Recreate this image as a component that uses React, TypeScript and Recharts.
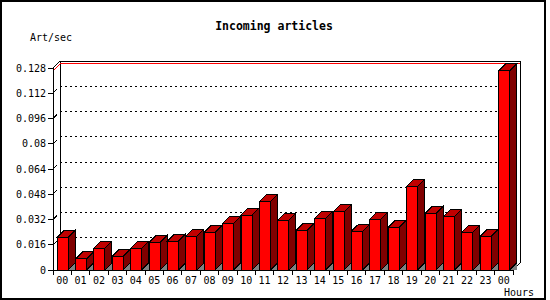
import React from 'react';
import { BarChart, Bar, XAxis, YAxis, CartesianGrid } from 'recharts';

const hours = [
  '00', '01', '02', '03', '04', '05', '06', '07', '08', '09', '10', '11',
  '12', '13', '14', '15', '16', '17', '18', '19', '20', '21', '22', '23', '00',
];
const artPerSec = [
  0.0207, 0.007, 0.0137, 0.0087, 0.0137, 0.0175, 0.0182, 0.0213, 0.0239, 0.0296, 0.0347, 0.0435,
  0.0315, 0.0251, 0.0328, 0.0368, 0.0245, 0.0321, 0.0271, 0.053, 0.0359, 0.034, 0.0239, 0.0213, 0.1261,
];
const yTicks = [0, 0.016, 0.032, 0.048, 0.064, 0.08, 0.096, 0.112, 0.128];

const DEPTH = 7;
const FONT = '"DejaVu Sans Mono", monospace';

const data = hours.map((hour, i) => ({ hour, value: artPerSec[i] }));
const maxVal = Math.max(...artPerSec);
// grid lines at the ticks, plus one more for the max line
const gridValues = [...yTicks, maxVal];

// box with top + side faces and a grey floor shadow
const Bar3D = (props: any) => {
  const { x, y, width, height } = props;
  const d = DEPTH;
  const r = x + width;
  const b = y + height;
  return (
    <g stroke="#000" strokeWidth={1}>
      <polygon points={`${r},${b} ${r + d},${b - d} ${r + d},${b}`} fill="#808080" stroke="none" />
      <polygon points={`${r},${y} ${r + d},${y - d} ${r + d},${b - d} ${r},${b}`} fill="#800000" />
      <polygon points={`${x},${y} ${x + d},${y - d} ${r + d},${y - d} ${r},${y}`} fill="#c00000" />
      <rect x={x} y={y} width={width} height={height} fill="#ff0000" />
    </g>
  );
};

// back wall grid, the 3d frame and the red max line
const BackGrid = (props: any) => {
  const { x1, y1, x2, x, y, width, height, index } = props;
  const d = DEPTH;
  if (index === yTicks.length) {
    return (
      <g key={`max-${index}`} stroke="#ff0000" strokeWidth={1} fill="none">
        <line x1={x1 + d} y1={y1 - d} x2={x2 + d} y2={y1 - d} />
        <line x1={x1} y1={y1} x2={x1 + d} y2={y1 - d} />
      </g>
    );
  }
  const isTop = Math.abs(y1 - y) < 0.5;
  const isBottom = Math.abs(y1 - (y + height)) < 0.5;
  return (
    <g key={`g-${index}`} stroke="#000" strokeWidth={1} fill="none">
      {!isTop && !isBottom && (
        <>
          <line x1={x1 + d} y1={y1 - d} x2={x2 + d} y2={y1 - d} strokeDasharray="2 3" />
          <line x1={x1 + 1} y1={y1 - 1} x2={x1 + 4} y2={y1 - 4} />
        </>
      )}
      {isTop && (
        <>
          <line x1={x + d} y1={y - d} x2={x + width + d} y2={y - d} />
          <line x1={x} y1={y} x2={x + d} y2={y - d} />
          <line x1={x + d} y1={y - d} x2={x + d} y2={y + height - d} />
          <line x1={x + width + d} y1={y - d} x2={x + width + d} y2={y + height - d} />
          <line x1={x + width} y1={y + height} x2={x + width + d} y2={y + height - d} />
        </>
      )}
    </g>
  );
};

// label centred in the band, tick marks on the band edges
const HourTick = (props: any) => {
  const { x, y, payload, index } = props;
  const half = payload && payload.offset ? payload.offset : 9.2;
  const axisY = y - 5;
  return (
    <g>
      <line x1={x - half} y1={axisY} x2={x - half} y2={axisY + 5} stroke="#000" />
      {index === hours.length - 1 && (
        <line x1={x + half} y1={axisY} x2={x + half} y2={axisY + 5} stroke="#000" />
      )}
      <text x={x} y={axisY + 14} textAnchor="middle" fontFamily={FONT} fontSize={10} fill="#000">
        {payload.value}
      </text>
    </g>
  );
};

export default function App() {
  return (
    <div className="chart3d" style={{ position: 'absolute', left: 0, top: 0, width: 550, height: 300, background: '#fff' }}>
      <style>{`.chart3d svg line, .chart3d svg polygon, .chart3d svg rect, .chart3d svg path { shape-rendering: crispEdges; }`}</style>
      <BarChart
        width={550}
        height={300}
        data={data}
        margin={{ top: 68, right: 37, bottom: 0, left: 0 }}
      >
        <CartesianGrid vertical={false} horizontalValues={gridValues} horizontal={BackGrid} />
        <XAxis
          dataKey="hour"
          interval={0}
          height={30}
          tickLine={false}
          tickSize={5}
          tickMargin={0}
          axisLine={{ stroke: '#000' }}
          tick={<HourTick />}
        />
        <YAxis
          width={53}
          domain={[0, 0.128]}
          ticks={yTicks}
          interval={0}
          tickSize={5}
          tickMargin={2}
          axisLine={{ stroke: '#000' }}
          tickLine={{ stroke: '#000' }}
          tick={{ fontFamily: FONT, fontSize: 10, fill: '#000' }}
        />
        <Bar dataKey="value" barSize={11} shape={<Bar3D />} isAnimationActive={false} />
      </BarChart>
      <svg width={550} height={300} style={{ position: 'absolute', left: 0, top: 0, pointerEvents: 'none' }}>
        <text x={274} y={30} textAnchor="middle" fontFamily={FONT} fontWeight="bold" fontSize={11.5} fill="#000">
          Incoming articles
        </text>
        <text x={30} y={41} fontFamily={FONT} fontSize={10} fill="#000">Art/sec</text>
        <text x={504} y={296} fontFamily={FONT} fontSize={10} fill="#000">Hours</text>
        <rect x={1} y={1} width={544} height={298} fill="none" stroke="#000" strokeWidth={2} />
      </svg>
    </div>
  );
}
